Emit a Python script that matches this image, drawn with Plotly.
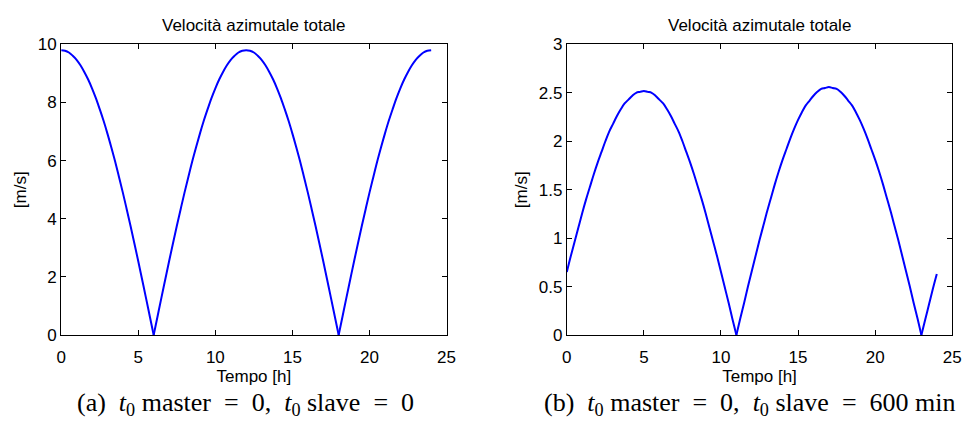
import plotly.graph_objects as go

# ---------------- data ----------------
t_hours = [i * 0.25 for i in range(97)]

v_case_a = [
    9.80, 9.78, 9.72, 9.61, 9.47, 9.28, 9.05, 8.79, 8.49, 8.15, 7.77, 7.37, 6.93,
    6.46, 5.97, 5.44, 4.90, 4.33, 3.75, 3.15, 2.54, 1.91, 1.28, 0.64, 0.00,
    0.64, 1.28, 1.91, 2.54, 3.15, 3.75, 4.33, 4.90, 5.44, 5.97, 6.46, 6.93,
    7.37, 7.77, 8.15, 8.49, 8.79, 9.05, 9.28, 9.47, 9.61, 9.72, 9.78, 9.80,
    9.78, 9.72, 9.61, 9.47, 9.28, 9.05, 8.79, 8.49, 8.15, 7.77, 7.37, 6.93,
    6.46, 5.97, 5.44, 4.90, 4.33, 3.75, 3.15, 2.54, 1.91, 1.28, 0.64, 0.00,
    0.64, 1.28, 1.91, 2.54, 3.15, 3.75, 4.33, 4.90, 5.44, 5.97, 6.46, 6.93,
    7.37, 7.77, 8.15, 8.49, 8.79, 9.05, 9.28, 9.47, 9.61, 9.72, 9.78, 9.80,
]

v_case_b = [
    0.65, 0.81, 0.96, 1.11, 1.26, 1.40, 1.53, 1.66, 1.78, 1.89, 2.00, 2.10, 2.18,
    2.26, 2.33, 2.39, 2.43, 2.47, 2.50, 2.51, 2.52,
    2.51, 2.50, 2.47, 2.43, 2.39, 2.33, 2.26, 2.18, 2.10, 2.00, 1.89, 1.78,
    1.66, 1.53, 1.40, 1.26, 1.11, 0.96, 0.81, 0.65, 0.49, 0.33, 0.16, 0.00,
    0.17, 0.33, 0.50, 0.66, 0.82, 0.98, 1.13, 1.28, 1.42, 1.56, 1.69, 1.81,
    1.92, 2.03, 2.13, 2.22, 2.30, 2.37, 2.42, 2.47, 2.51, 2.54, 2.55, 2.56,
    2.55, 2.54, 2.51, 2.47, 2.42, 2.37, 2.30, 2.22, 2.13, 2.03, 1.92, 1.81,
    1.69, 1.56, 1.42, 1.28, 1.13, 0.98, 0.82, 0.66, 0.50, 0.33, 0.17, 0.00,
    0.16, 0.32, 0.48, 0.63,
]

x_ticks = [0, 5, 10, 15, 20, 25]
y_ticks_a = [0, 2, 4, 6, 8, 10]
y_ticks_b = [0, 0.5, 1, 1.5, 2, 2.5, 3]

title_text = "Velocità azimutale totale"
x_title = "Tempo [h]"
y_title = "[m/s]"
SP = "&nbsp;"
caption_a = ("(a)" + SP + " <i>t</i><sub>0</sub> master " + SP + "=" + SP + " 0," + SP
             + " <i>t</i><sub>0</sub> slave " + SP + "=" + SP + " 0")
caption_b = ("(b)" + SP + " <i>t</i><sub>0</sub> master " + SP + "=" + SP + " 0," + SP
             + " <i>t</i><sub>0</sub> slave " + SP + "=" + SP + " 600 min")

# ---------------- figure ----------------
W, H = 976, 433
FONT = "Liberation Sans, Arial, sans-serif"
SERIF = "Liberation Serif, Times New Roman, serif"
BLUE = "#0000ff"

fig = go.Figure()


def add_humps(t, v, xa, ya):
    # each arch between zero-crossings drawn as a smooth spline, keeping the cusps sharp
    start = 0
    for i in range(1, len(v)):
        if v[i] == 0 or i == len(v) - 1:
            fig.add_trace(go.Scatter(x=t[start:i + 1], y=v[start:i + 1], mode="lines",
                                     line=dict(color=BLUE, width=2, shape="spline",
                                               smoothing=1),
                                     xaxis=xa, yaxis=ya, showlegend=False,
                                     hoverinfo="x+y"))
            start = i


add_humps(t_hours, v_case_a, "x", "y")
add_humps(t_hours, v_case_b, "x2", "y2")

y_dom = [1 - 341 / H, 1 - 37 / H]
xa_dom = [57 / W, 448 / W]
xb_dom = [570 / W, 961 / W]

axis_common = dict(showline=True, linecolor="black", linewidth=1, mirror="ticks",
                   ticks="inside", ticklen=5, tickwidth=1, tickcolor="black",
                   showgrid=False, zeroline=False,
                   tickfont=dict(family=FONT, size=17, color="black"))

xt = dict(text=x_title, font=dict(family=FONT, size=17, color="black"), standoff=0)
yt = dict(text=y_title, font=dict(family=FONT, size=17, color="black"), standoff=6)

fig.update_layout(
    width=W, height=H,
    margin=dict(l=0, r=0, t=0, b=0),
    paper_bgcolor="white", plot_bgcolor="white",
    font=dict(family=FONT, size=17, color="black"),
    xaxis=dict(domain=xa_dom, anchor="y", range=[0, 25], tickvals=x_ticks,
               ticklabelstandoff=7, title=xt, **axis_common),
    yaxis=dict(domain=y_dom, anchor="x", range=[0, 10], tickvals=y_ticks_a,
               ticklabelstandoff=0, title=yt, **axis_common),
    xaxis2=dict(domain=xb_dom, anchor="y2", range=[0, 25], tickvals=x_ticks,
                ticklabelstandoff=7, title=xt, **axis_common),
    yaxis2=dict(domain=y_dom, anchor="x2", range=[0, 3], tickvals=y_ticks_b,
                ticklabelstandoff=0, title=yt, **axis_common),
)

for dom in (xa_dom, xb_dom):
    fig.add_annotation(text=title_text, xref="paper", yref="paper",
                       x=(dom[0] + dom[1]) / 2, y=1 - 17 / H, xanchor="center",
                       yanchor="middle", showarrow=False,
                       font=dict(family=FONT, size=17, color="black"))

fig.add_annotation(text=caption_a, xref="paper", yref="paper", x=244 / W, y=1 - 413 / H,
                   xanchor="center", yanchor="middle", showarrow=False,
                   font=dict(family=SERIF, size=26, color="black"))
fig.add_annotation(text=caption_b, xref="paper", yref="paper", x=756 / W, y=1 - 413 / H,
                   xanchor="center", yanchor="middle", showarrow=False,
                   font=dict(family=SERIF, size=26, color="black"))

fig.write_html("out.html")
